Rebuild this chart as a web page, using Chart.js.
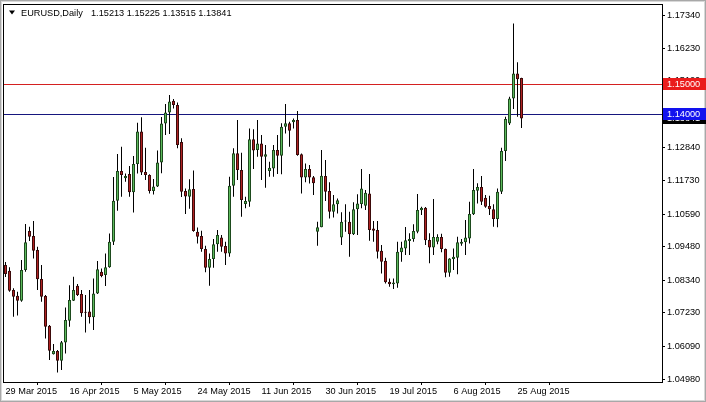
<!DOCTYPE html>
<html>
<head>
<meta charset="utf-8">
<script src="https://cdn.jsdelivr.net/npm/chart.js@4.4.0/dist/chart.umd.min.js"></script>
<style>
  html, body { margin: 0; padding: 0; background: #fff; }
  canvas { display: block; }
</style>
</head>
<body>
<canvas id="chart" width="706" height="402"></canvas>
<script>
// EURUSD daily candles (one bar per trading day, Sunday bars included)
const symbolTitle = 'EURUSD,Daily';
const lastQuote = '1.15213 1.15225 1.13515 1.13841';

const opens = [
  1.0886, 1.0866, 1.0801, 1.0781, 1.0764, 1.0869, 1.1001, 1.0984, 1.0937, 1.0838,
  1.0780, 1.0679, 1.0582, 1.0593, 1.0560, 1.0622, 1.0696, 1.0764, 1.0815, 1.0787,
  1.0726, 1.0728, 1.0708, 1.0789, 1.0863, 1.0852, 1.0878, 1.0965, 1.1104, 1.1205,
  1.1181, 1.1195, 1.1133, 1.1229, 1.1340, 1.1202, 1.1192, 1.1137, 1.1153, 1.1234,
  1.1367, 1.1404, 1.1444, 1.1430, 1.1304, 1.1137, 1.1118, 1.1144, 1.0999, 1.0984,
  1.0940, 1.0876, 1.0906, 1.0956, 1.0979, 1.0950, 1.0925, 1.1155, 1.1266, 1.1209,
  1.1093, 1.1101, 1.1313, 1.1277, 1.1299, 1.1254, 1.1205, 1.1214, 1.1277, 1.1257,
  1.1356, 1.1368, 1.1371, 1.1379, 1.1262, 1.1183, 1.1212, 1.1184, 1.0999, 1.1014,
  1.1188, 1.1137, 1.1067, 1.1092, 1.0979, 1.1034, 1.1033, 1.0990, 1.1075, 1.1093,
  1.1087, 1.1129, 1.1010, 1.1005, 1.0934, 1.0900, 1.0829, 1.0820, 1.0823, 1.0929,
  1.0942, 1.0967, 1.0974, 1.0999, 1.1072, 1.1080, 1.0971, 1.0945, 1.0965, 1.0981,
  1.0940, 1.0859, 1.0906, 1.0910, 1.0958, 1.0963, 1.0976, 1.1058, 1.1138, 1.1151,
  1.1114, 1.1086, 1.1075, 1.1042, 1.1135, 1.1273, 1.1367, 1.1452, 1.1537, 1.15213
];
const highs = [
  1.0896, 1.0878, 1.0807, 1.0795, 1.0903, 1.1025, 1.1016, 1.1035, 1.0948, 1.0886,
  1.0784, 1.0682, 1.0617, 1.0597, 1.0627, 1.0741, 1.0817, 1.0846, 1.0821, 1.0801,
  1.0784, 1.0801, 1.0840, 1.0899, 1.0874, 1.0925, 1.0993, 1.1185, 1.1263, 1.1288,
  1.1197, 1.1222, 1.1256, 1.1369, 1.1388, 1.1284, 1.1194, 1.1178, 1.1275, 1.1389,
  1.1433, 1.1464, 1.1450, 1.1438, 1.1317, 1.1146, 1.1177, 1.1207, 1.1013, 1.1002,
  1.0951, 1.0925, 1.0974, 1.1005, 1.0988, 1.0965, 1.1186, 1.1283, 1.1379, 1.1267,
  1.1118, 1.1350, 1.1347, 1.1379, 1.1328, 1.1294, 1.1237, 1.1294, 1.1328, 1.1368,
  1.1433, 1.1373, 1.1384, 1.1409, 1.1265, 1.1231, 1.1226, 1.1188, 1.1033, 1.1277,
  1.1243, 1.1167, 1.1124, 1.1112, 1.1065, 1.1092, 1.1067, 1.1099, 1.1126, 1.1212,
  1.1141, 1.1195, 1.1035, 1.1035, 1.0954, 1.0910, 1.0840, 1.0840, 1.0965, 1.0965,
  1.1015, 1.0994, 1.1024, 1.1127, 1.1084, 1.1083, 1.0994, 1.1110, 1.0990, 1.0992,
  1.0942, 1.0909, 1.0942, 1.0982, 1.0974, 1.1039, 1.1101, 1.1212, 1.1164, 1.1188,
  1.1124, 1.1121, 1.1092, 1.1146, 1.1284, 1.1390, 1.1458, 1.1707, 1.1575, 1.15225
];
const lows = [
  1.0845, 1.0795, 1.0710, 1.0714, 1.0761, 1.0863, 1.0967, 1.0908, 1.0801, 1.0761,
  1.0636, 1.0563, 1.0581, 1.0520, 1.0529, 1.0585, 1.0676, 1.0763, 1.0780, 1.0710,
  1.0656, 1.0687, 1.0665, 1.0787, 1.0844, 1.0814, 1.0876, 1.0954, 1.1070, 1.1118,
  1.1169, 1.1118, 1.1064, 1.1197, 1.1192, 1.1175, 1.1129, 1.1125, 1.1151, 1.1198,
  1.1328, 1.1331, 1.1418, 1.1283, 1.1117, 1.1059, 1.1077, 1.0999, 1.0959, 1.0931,
  1.0861, 1.0815, 1.0876, 1.0931, 1.0931, 1.0886, 1.0914, 1.1118, 1.1175, 1.1050,
  1.1079, 1.1084, 1.1212, 1.1254, 1.1175, 1.1148, 1.1186, 1.1186, 1.1195, 1.1194,
  1.1333, 1.1288, 1.1350, 1.1257, 1.1129, 1.1167, 1.1163, 1.1124, 1.0951, 1.1014,
  1.1103, 1.1044, 1.1047, 1.1061, 1.0954, 1.0999, 1.0914, 1.0988, 1.0988, 1.1079,
  1.1073, 1.0968, 1.0965, 1.0908, 1.0857, 1.0823, 1.0812, 1.0804, 1.0808, 1.0897,
  1.0920, 1.0920, 1.0965, 1.0994, 1.1056, 1.0954, 1.0892, 1.0920, 1.0956, 1.0929,
  1.0844, 1.0846, 1.0869, 1.0854, 1.0951, 1.0920, 1.0959, 1.1056, 1.1095, 1.1090,
  1.1080, 1.1056, 1.1016, 1.1014, 1.1127, 1.1239, 1.1362, 1.1416, 1.1390, 1.13515
];
const closes = [
  1.0855, 1.0798, 1.0778, 1.0764, 1.0869, 1.0963, 1.0982, 1.0934, 1.0837, 1.0778,
  1.0676, 1.0594, 1.0593, 1.0560, 1.0623, 1.0699, 1.0767, 1.0801, 1.0784, 1.0722,
  1.0723, 1.0708, 1.0789, 1.0871, 1.0848, 1.0878, 1.0965, 1.1104, 1.1205, 1.1192,
  1.1188, 1.1133, 1.1229, 1.1340, 1.1200, 1.1192, 1.1137, 1.1153, 1.1234, 1.1367,
  1.1404, 1.1442, 1.1430, 1.1294, 1.1135, 1.1119, 1.1143, 1.1001, 1.0982, 1.0940,
  1.0876, 1.0906, 1.0956, 1.0988, 1.0948, 1.0925, 1.1155, 1.1266, 1.1209, 1.1107,
  1.1103, 1.1313, 1.1275, 1.1299, 1.1254, 1.1262, 1.1216, 1.1277, 1.1257, 1.1356,
  1.1368, 1.1342, 1.1379, 1.1260, 1.1183, 1.1212, 1.1183, 1.1164, 1.1014, 1.1189,
  1.1135, 1.1067, 1.1092, 1.1106, 1.1033, 1.1037, 1.0990, 1.1075, 1.1095, 1.1146,
  1.1131, 1.1005, 1.1002, 1.0931, 1.0897, 1.0827, 1.0820, 1.0826, 1.0931, 1.0945,
  1.0970, 1.0974, 1.1001, 1.1073, 1.1080, 1.0970, 1.0945, 1.0981, 1.0981, 1.0940,
  1.0859, 1.0908, 1.0914, 1.0963, 1.0965, 1.0979, 1.1059, 1.1141, 1.1151, 1.1101,
  1.1084, 1.1075, 1.1042, 1.1135, 1.1273, 1.1382, 1.1452, 1.1537, 1.1517, 1.13841
];

// time axis labels (bar index -> text)
const dateTickIdx = [0, 16, 32, 48, 64, 80, 96, 112, 128];
const dateLabels = ['29 Mar 2015', '16 Apr 2015', '5 May 2015', '24 May 2015', '11 Jun 2015',
                    '30 Jun 2015', '19 Jul 2015', '6 Aug 2015', '25 Aug 2015'];

// price axis
const priceTicks = [1.0498, 1.0609, 1.0723, 1.0834, 1.0948, 1.1059, 1.1173, 1.1284, 1.1401, 1.1512, 1.1623, 1.1734];
const priceMin = 1.04879;
const priceMax = 1.17697;

// horizontal levels + current bid
const levelPrices = [1.15, 1.14];
const currentBid = 1.13841;

const FONT = "'Liberation Sans', Arial, sans-serif";
const BULL = '#5cba5c';
const BULL_EDGE = '#1d4a1d';
const BEAR = '#b02222';
const BEAR_EDGE = '#3c0a0a';

const decor = {
  id: 'decor',
  beforeDraw(chart) {
    const ctx = chart.ctx;
    ctx.save();
    ctx.fillStyle = '#fff';
    ctx.fillRect(0, 0, chart.width, chart.height);
    ctx.restore();
  },
  beforeDatasetsDraw(chart) {
    const {ctx, chartArea: a, scales: {y}} = chart;
    const colors = ['#d42020', '#16167e'];
    ctx.save();
    levelPrices.forEach((p, i) => {
      const py = Math.round(y.getPixelForValue(p)) + 0.5;
      ctx.strokeStyle = colors[i];
      ctx.lineWidth = 1;
      ctx.beginPath();
      ctx.moveTo(a.left, py);
      ctx.lineTo(a.right, py);
      ctx.stroke();
    });
    ctx.restore();
  },
  afterDraw(chart) {
    const {ctx, chartArea: a, scales: {y}} = chart;
    ctx.save();
    // chart frame
    ctx.strokeStyle = '#000';
    ctx.lineWidth = 1;
    ctx.strokeRect(a.left - 0.5, a.top - 0.5, a.right - a.left + 1, a.bottom - a.top + 1);

    // window frame
    ctx.strokeStyle = '#a8a8a8';
    ctx.strokeRect(0.5, 0.5, chart.width - 1, chart.height - 1);
    ctx.strokeStyle = '#d8d8d8';
    ctx.strokeRect(1.5, 1.5, chart.width - 3, chart.height - 3);

    // price labels on the axis
    ctx.font = '9.2px ' + FONT;
    ctx.textBaseline = 'middle';
    ctx.textAlign = 'left';
    const tag = (p, bg, txt) => {
      const py = y.getPixelForValue(p);
      ctx.fillStyle = bg;
      ctx.fillRect(a.right + 1, Math.round(py - 6), chart.width - a.right - 1, 12);
      ctx.fillStyle = '#fff';
      ctx.fillText(txt, a.right + 5, py + 0.5);
    };
    tag(currentBid, '#000', currentBid.toFixed(5));
    tag(levelPrices[1], '#1212ee', levelPrices[1].toFixed(5));
    tag(levelPrices[0], '#ea1c1c', levelPrices[0].toFixed(5));

    // title line
    ctx.fillStyle = '#000';
    ctx.beginPath();
    ctx.moveTo(9, 10.5);
    ctx.lineTo(15, 10.5);
    ctx.lineTo(12, 14.5);
    ctx.closePath();
    ctx.fill();
    ctx.fillText(symbolTitle, 21, 13);
    ctx.fillText(lastQuote, 91, 13);
    ctx.restore();
  }
};

const idx = opens.map((_, i) => i);
const isBull = i => closes[i] >= opens[i];

new Chart(document.getElementById('chart'), {
  type: 'bar',
  data: {
    datasets: [
      {
        label: 'wick',
        data: idx.map(i => ({x: i, y: [lows[i], highs[i]]})),
        backgroundColor: '#000',
        borderWidth: 0,
        barThickness: 1,
        inflateAmount: 0,
        grouped: false,
        order: 2
      },
      {
        label: 'body',
        data: idx.map(i => ({x: i, y: [opens[i], closes[i]]})),
        backgroundColor: idx.map(i => isBull(i) ? BULL : BEAR),
        borderColor: idx.map(i => isBull(i) ? BULL_EDGE : BEAR_EDGE),
        borderWidth: 1,
        borderSkipped: false,
        barThickness: 3,
        minBarLength: 1,
        inflateAmount: 0,
        grouped: false,
        order: 1
      }
    ]
  },
  options: {
    responsive: false,
    animation: false,
    devicePixelRatio: 1,
    layout: { padding: { left: 4, top: 5, right: 0, bottom: 0 } },
    plugins: { legend: { display: false }, tooltip: { enabled: false } },
    scales: {
      x: {
        type: 'linear',
        min: -0.375,
        max: 164.125,
        offset: false,
        afterFit: s => { s.height = 20; s.paddingLeft = 0; s.paddingRight = 0; },
        afterBuildTicks: s => { s.ticks = dateTickIdx.map(v => ({value: v})); },
        grid: { drawOnChartArea: false, drawTicks: true, tickLength: 3, color: '#000' },
        border: { display: false },
        ticks: {
          autoSkip: false, maxRotation: 0, align: 'start', padding: 1,
          color: '#000', font: { family: FONT, size: 9.2 },
          callback: (v, i) => dateLabels[i]
        }
      },
      y: {
        type: 'linear',
        position: 'right',
        min: priceMin,
        max: priceMax,
        afterFit: s => { s.width = 44; s.paddingTop = 0; s.paddingBottom = 0; },
        afterBuildTicks: s => { s.ticks = priceTicks.map(v => ({value: v})); },
        grid: { drawOnChartArea: false, drawTicks: true, tickLength: 3, color: '#000' },
        border: { display: false },
        ticks: {
          autoSkip: false, padding: 2,
          color: '#000', font: { family: FONT, size: 9.2 },
          callback: v => v.toFixed(5)
        }
      }
    }
  },
  plugins: [decor]
});
</script>
</body>
</html>
